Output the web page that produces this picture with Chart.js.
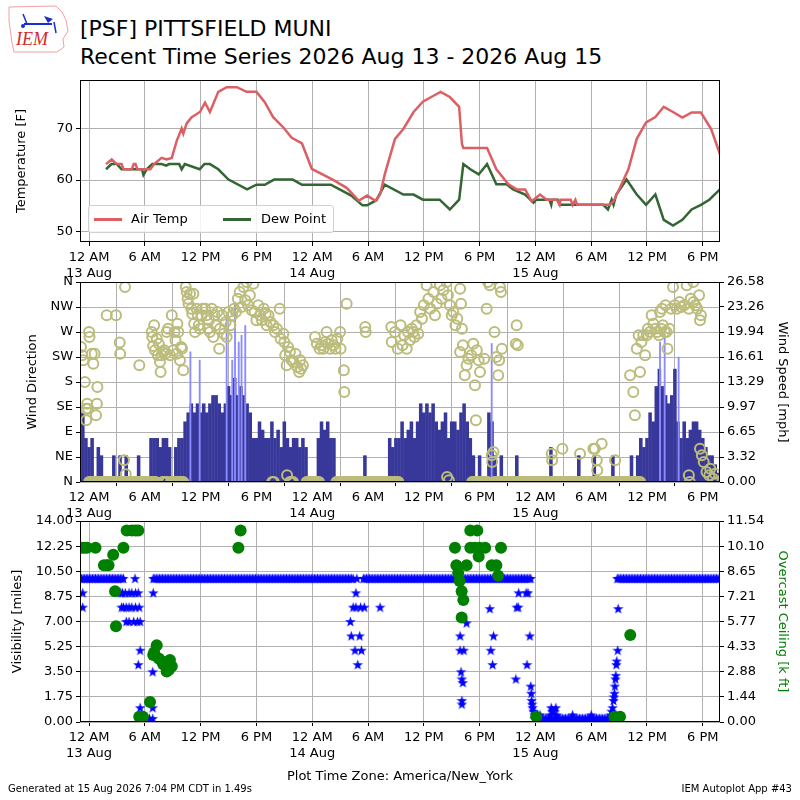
<!DOCTYPE html>
<html>
<head>
<meta charset="utf-8">
<script src="https://cdn.jsdelivr.net/npm/chart.js@4.4.1/dist/chart.umd.min.js"></script>
<style>
body { margin: 0; width: 800px; height: 800px; position: relative; overflow: hidden; background: #fff; font-family: 'DejaVu Sans', sans-serif; }
canvas { position: absolute; left: 0; }
.txt { position: absolute; white-space: nowrap; color: #000; }
#legend { position: absolute; left: 88px; top: 205px; width: 244px; height: 26px; border: 1px solid #d0d0d0; border-radius: 3px; background: rgba(255,255,255,0.85); font-size: 13px; }
#legend span { position: absolute; top: 5px; }
#legend i { position: absolute; top: 12px; height: 3px; width: 28px; }
</style>
</head>
<body>
<svg style="position:absolute;left:6px;top:3px" width="72" height="54" viewBox="0 0 72 54">
  <polygon points="3,4 50,3 56,9 60,17 62,28 57,36 58,44 51,49 8,49 6,40 3,18" fill="none" stroke="#f2a0a0" stroke-width="1"/>
  <line x1="18" y1="21" x2="46" y2="21" stroke="#1a2fd0" stroke-width="2"/>
  <line x1="17" y1="11" x2="21" y2="21" stroke="#1a2fd0" stroke-width="1.5"/>
  <polygon points="38,13 47,16 42,20" fill="#1a2fd0"/>
  <circle cx="17" cy="23" r="2" fill="#1a2fd0"/>
  <line x1="48" y1="19" x2="50" y2="30" stroke="#1a2fd0" stroke-width="1.5"/>
  <text x="10" y="42" font-family="Liberation Serif, serif" font-style="italic" font-size="18" fill="#d42a2a">IEM</text>
</svg>
<div class="txt" style="left:80px;top:15px;font-size:22px;line-height:28px">[PSF] PITTSFIELD MUNI<br>Recent Time Series 2026 Aug 13 - 2026 Aug 15</div>

<canvas id="tempChart" width="800" height="207" style="top:75px"></canvas>
<canvas id="windChart" width="800" height="252" style="top:275px"></canvas>
<canvas id="visChart" width="800" height="272" style="top:515px"></canvas>

<div id="legend">
  <i style="left:5px;background:#dc5f64"></i><span style="left:42px">Air Temp</span>
  <i style="left:134px;background:#336633"></i><span style="left:172px">Dew Point</span>
</div>

<div class="txt" style="left:8px;top:783px;font-size:10px">Generated at 15 Aug 2026 7:04 PM CDT in 1.49s</div>
<div class="txt" style="right:8px;top:783px;font-size:10px">IEM Autoplot App #43</div>

<script>
Chart.defaults.font.family = "'DejaVu Sans', sans-serif";
Chart.defaults.font.size = 13;
Chart.defaults.color = '#000';
Chart.defaults.animation = false;

// time is in hours after 12 AM 13 Aug (America/New_York)
const X_MIN = -0.97;
const X_MAX = 67.85;
const tickHours = [0, 6, 12, 18, 24, 30, 36, 42, 48, 54, 60, 66];
const tickLabels = [['12 AM', '13 Aug'], '6 AM', '12 PM', '6 PM', ['12 AM', '14 Aug'], '6 AM', '12 PM', '6 PM', ['12 AM', '15 Aug'], '6 AM', '12 PM', '6 PM'];

// temperature panel
const tempTicks = [50, 60, 70];
const airTemp = [
  [1.83,63.1],[2.44,64.0],[2.97,63.1],[3.5,63.1],[3.7,62.1],[4.6,62.1],[4.8,63.1],[5.0,63.1],[5.2,62.1],[6.0,62.1],
  [6.6,62.1],[7.0,63.1],[7.8,64.3],[8.35,64.0],[8.9,64.3],[9.43,67.6],[9.96,70.0],[10.14,69.0],[10.5,71.0],[11.04,72.2],
  [11.93,73.2],[12.47,75.0],[13.0,73.2],[13.9,77.1],[14.8,78.0],[15.9,78.0],[16.95,77.1],[18.0,77.1],[18.9,75.1],[19.8,72.2],
  [20.9,70.2],[21.8,68.2],[22.9,67.1],[23.95,62.2],[25.0,61.2],[26.3,60.0],[27.7,58.5],[29.0,56.0],[29.9,57.0],[30.8,56.0],
  [31.3,57.2],[31.8,61.1],[32.9,68.0],[33.8,69.9],[34.9,73.2],[35.9,75.2],[36.8,76.1],[37.8,77.1],[38.8,76.1],[39.8,74.2],
  [40.1,67.0],[40.25,66.2],[42.8,66.2],[43.8,62.1],[45.1,59.2],[46.0,58.2],[46.9,58.2],[47.6,55.9],[48.5,57.2],[49.2,56.2],
  [50.3,56.2],[50.6,55.2],[50.7,56.2],[51.8,56.2],[52.0,55.2],[52.3,56.2],[52.5,55.2],[55.3,55.2],[56.0,55.2],[56.4,55.9],
  [56.9,57.8],[58.0,62.1],[58.9,68.0],[59.9,71.2],[60.9,72.2],[61.8,74.2],[62.8,73.2],[63.8,72.1],[64.8,73.1],[65.8,73.1],
  [66.9,69.9],[67.85,65.0]
];
const dewPoint = [
  [1.83,62.1],[2.4,63.1],[3.0,63.1],[3.5,62.1],[5.7,62.1],[5.85,61.0],[6.2,62.1],[6.8,63.1],[7.8,63.1],[8.3,62.8],
  [8.6,63.1],[9.7,63.1],[9.96,62.1],[10.3,63.1],[11.9,62.1],[12.4,63.1],[13.0,63.1],[13.9,62.1],[15.0,60.1],[17.0,58.2],
  [18.0,59.1],[18.9,59.1],[19.9,60.1],[21.9,60.1],[22.9,59.1],[24.0,59.1],[26.0,59.1],[28.2,57.0],[29.4,55.1],[29.9,55.1],
  [30.9,56.1],[31.8,59.1],[33.8,57.2],[34.9,57.2],[35.9,56.2],[37.7,56.2],[38.8,54.3],[39.8,56.2],[40.25,63.1],[41.0,62.1],
  [41.9,61.1],[42.8,63.1],[43.8,59.2],[44.9,59.2],[45.6,58.2],[46.9,57.2],[47.8,55.6],[48.1,56.2],[49.5,56.2],[49.7,55.2],
  [49.8,56.2],[50.4,56.2],[50.6,55.2],[55.3,55.2],[55.8,54.3],[56.2,56.2],[56.4,55.2],[56.7,57.2],[57.8,60.1],[58.9,57.2],
  [59.9,55.2],[60.9,57.2],[61.8,52.3],[62.8,51.2],[63.8,52.3],[64.8,54.3],[65.8,55.2],[66.7,56.2],[67.85,58.2]
];

// wind panel
const dirTicks = [0, 45, 90, 135, 180, 225, 270, 315, 360];
const dirLabels = ['N', 'NE', 'E', 'SE', 'S', 'SW', 'W', 'NW', 'N'];
const speedMax = 26.58;
const speedLabels = ['0.00', '3.32', '6.65', '9.97', '13.29', '16.61', '19.94', '23.26', '26.58'];
const WS_START = -2 / 3;   // first sample 11:20 PM 12 Aug, one sample every 20 minutes
const WS_STEP = 1 / 3;
const windSpeed = [
  9.2,5.8,4.6, 5.8,0,4.6, 3.5,0,0, 0,3.5,0, 3.5,0,3.5, 0,0,0,
  3.5,0,0, 0,5.8,5.8, 5.8,4.6,5.8, 5.8,4.6,0, 4.6,5.8,5.8, 8.0,9.2,10.4,
  9.2,10.4,9.2, 10.4,9.2,10.4, 11.5,11.5,10.4, 9.2,10.4,12.7, 11.5,13.8,11.5, 12.7,11.5,10.4,
  9.2,5.8,5.8, 8.0,6.9,5.8, 5.8,8.0,5.8, 6.9,4.6,8.0, 5.8,4.6,5.8, 5.8,4.6,5.8,
  4.6,0,0, 0,5.8,8.0, 6.9,8.0,5.8, 5.8,0,0, 0,0,0, 0,0,0,
  0,3.5,0, 0,0,0, 0,0,0, 5.8,4.6,5.8, 5.8,8.0,5.8, 6.9,8.0,5.8,
  8.0,10.4,9.2, 10.4,9.2,10.4, 8.0,6.9,8.0, 9.2,5.8,8.0, 8.0,6.9,9.2, 10.4,8.0,5.8,
  3.5,0,3.5, 0,0,9.2, 8.0,3.5,0, 3.5,0,0, 0,0,3.5, 0,0,0,
  0,0,0, 0,0,0, 0,4.6,0, 0,0,0, 0,0,0, 0,3.5,0,
  0,0,0, 3.5,0,0, 0,0,0, 3.5,0,0, 0,0,0, 3.5,0,3.5,
  5.8,4.6,5.8, 9.2,8.0,12.7, 15.0,12.7,11.5, 10.4,11.5,15.0, 8.0,5.8,8.0, 5.8,6.9,8.0,
  8.0,6.9,5.8, 4.6,3.5,3.5, 2.3,1.2
];
const windGust = [
  [10.9,17.3],[11.9,16.2],[14.8,21.7],[15.4,16.2],[15.7,23.9],[16.1,18.6],[16.4,19.5],[16.8,20.8],
  [43.3,18.4],[61.4,18.6],[61.9,19.7],[63.4,16.6]
];
const windDir = [
  [-0.86,243],[-0.75,228],[-0.61,219],[-0.45,180],[-0.32,132],[-0.3,111],[-0.2,141],[-0.1,132],[0.0,270],[0.05,261],
  [0.3,231],[0.46,213],[0.6,231],[0.75,120],[0.85,141],[0.9,171],[1.9,300],[2.9,300],[3.3,251],[3.35,231],
  [3.87,351],[3.76,39],[3.95,14],[5.41,210],
  [6.74,270],[6.8,261],[6.9,245],[7.0,282],[7.1,237],[7.28,258],[7.4,228],[7.5,249],[7.63,216],[7.7,198],
  [7.8,228],[7.99,234],[8.1,237],[8.2,231],[8.35,270],[8.5,276],[8.71,228],[8.9,300],[9.07,237],[9.2,270],
  [9.3,255],[9.43,231],[9.5,285],[9.6,270],[9.78,219],[9.9,243],[10.0,240],[10.14,201],
  [10.4,351],[10.5,342],[10.6,330],[10.7,321],[10.86,339],[11.0,312],[11.1,303],[11.22,339],[11.3,285],[11.4,270],
  [11.57,312],[11.7,300],[11.8,282],[11.93,276],[12.1,300],[12.2,312],
  [12.5,312],[12.65,300],[12.8,276],[12.9,291],[13.0,270],[13.2,312],[13.36,261],[13.5,300],[13.6,282],[13.8,306],
  [14.0,240],[14.08,276],[14.3,300],[14.5,267],[14.7,288],[14.8,261],[15.0,306],[15.2,282],[15.4,300],
  [15.6,312],[15.8,306],[16.0,330],[16.2,342],[16.4,315],[16.6,351],[16.8,327],[16.95,360],[17.1,318],[17.3,336],
  [17.5,309],[17.67,357],[17.8,306],[18.0,291],[18.2,318],[18.4,300],
  [18.6,291],[18.8,312],[19.0,303],[19.1,282],[19.3,300],[19.5,288],[19.82,282],[20.0,270],[20.2,276],[20.5,312],
  [20.6,258],[20.9,267],[21.0,252],[21.1,228],[21.25,210],[21.3,12],[21.4,243],[21.6,234],[21.8,219],[21.97,216],
  [22.2,231],[22.4,207],[22.6,198],[22.7,219],[22.8,204],[23.0,210],
  [24.3,261],[24.5,249],[24.8,240],[25.0,246],[25.2,240],[25.4,252],[25.55,270],[25.7,249],[25.9,240],[26.1,255],
  [26.3,246],[26.5,240],[26.7,258],[27.0,270],[27.05,240],[27.4,201],[27.45,162],[27.7,321],[29.7,279],[29.75,270],
  [32.5,279],[32.55,252],[32.9,270],[33.2,240],
  [33.5,282],[33.7,246],[33.9,264],[34.16,240],[34.3,270],[34.5,255],[34.7,276],[34.87,270],[35.0,261],[35.2,282],
  [35.4,267],[35.6,306],[35.8,294],[36.0,318],[36.3,354],[36.5,330],[36.7,312],[37.03,342],[37.2,300],[37.4,321],
  [37.74,354],[37.9,330],[38.1,345],[38.46,360],[38.5,9],[38.6,336],[38.7,3],[38.8,318],[39.0,300],[39.18,306],
  [39.4,282],[39.6,294],[39.9,348],[40.0,321],[40.1,276],[39.9,234],[40.2,246],[40.4,192],[40.6,210],[40.8,222],
  [41.1,228],[41.32,249],[41.5,174],[41.6,111],[41.7,237],[41.9,219],[42.04,198],[42.5,222],[42.76,312],[42.9,360],
  [43.1,354],[43.3,48],[43.35,36],[43.5,54],[43.6,270],[43.8,225],[44.0,192],[44.1,219],[44.19,351],[44.3,342],
  [44.4,240],[45.98,282],[45.9,249],[46.1,246],
  [49.75,51],[49.8,39],[50.9,60],[52.8,51],[54.23,60],[54.4,60],[54.6,39],[54.65,21],[55.13,69],[56.57,39],
  [58.18,192],[58.53,162],[58.7,120],[58.9,240],[59.1,264],[59.25,198],[59.4,252],[59.6,264],[59.8,228],[59.97,264],
  [60.1,276],[60.3,270],[60.5,300],[60.68,285],[60.9,276],[61.1,270],[61.3,264],[61.5,276],[61.7,282],[61.9,270],
  [62.1,270],[62.2,240],[62.4,276],[61.4,306],[61.6,312],[62.0,318],[62.6,312],[62.8,351],[63.0,318],[63.2,312],
  [63.5,324],[63.7,315],[64.0,318],[64.27,354],[64.5,312],[64.7,330],[64.98,360],[65.0,324],[65.2,318],[65.4,312],
  [65.6,336],[65.7,291],[65.8,300],
  [64.5,12],[64.6,0],[65.7,60],[65.9,48],[66.1,36],[66.4,18],[66.7,12],[66.8,24],[67.1,6],[67.3,15],[67.5,0]
];
// calm reports (direction plotted as N) from..to, hours
const calmRuns = [[0.0,7.2],[7.9,8.5],[8.8,10.2],[19.7,20.0],[21.6,22.0],[23.4,24.8],[26.6,33.3],[41.2,43.0],[43.6,59.3]];

// visibility / ceiling panel
const visTickLabels = ['0.00', '1.75', '3.50', '5.25', '7.00', '8.75', '10.50', '12.25', '14.00'];
const ceilMax = 11.54;
const ceilTickLabels = ['0.00', '1.44', '2.88', '4.33', '5.77', '7.21', '8.65', '10.10', '11.54'];
// steady visibility reports: [from, to, miles]
const visRuns = [[-0.97,3.7,10],[6.9,28.5,10],[29.5,47.6,10],[56.8,67.85,10],[47.9,56.3,0.25]];
const visObs = [
  [-0.68,9],[-0.68,8],[3.4,9],[3.6,9],[3.9,9],[4.3,9],[4.6,9],[5.0,9],[5.3,9],
  [3.5,8],[3.7,8],[4.0,8],[4.3,8],[4.6,8],[5.0,8],[5.4,8],[4.0,7],[4.3,7],[4.8,7],[5.2,7],[5.5,7],
  [4.95,10],[5.5,5],[5.3,4],[5.5,1],[5.4,0.25],[5.8,0.25],[6.5,0.25],[6.85,0.25],[6.85,1],[6.85,3.5],[6.9,9],
  [28.1,7],[28.2,6],[29.1,6],[28.6,5],[29.3,5],[28.9,4],[28.4,8],[28.7,8],[29.2,8],[29.6,8],[28.7,9],[28.8,10],[31.3,8],
  [39.9,6],[39.9,5],[40.3,5],[40.0,3.5],[40.1,3.0],[40.2,2.75],[40.1,1.5],[40.1,1.25],[40.6,6.9],
  [43.1,7.9],[43.5,6],[43.2,5],[43.4,4],
  [46.0,8],[46.15,8],[45.9,3],[46.2,9],[47.0,9],[47.2,9],[47.1,4],[47.4,6],[47.5,2.5],[47.55,2.0],[47.6,1.5],
  [47.65,1.25],[47.7,1.0],[47.8,0.75],[47.9,0.5],[48.2,0.5],[48.5,0.5],
  [49.6,0.5],[49.7,1.0],[49.8,0.75],[50.0,0.75],[50.2,1.0],[50.3,0.5],[52.0,0.5],[54.0,0.5],
  [56.1,0.5],[56.2,0.75],[56.3,1.0],[56.4,1.5],[56.45,1.75],[56.5,2.0],[56.55,2.5],[56.6,3.0],[56.65,3.25],
  [56.7,4.0],[56.75,4.25],[56.85,5.0],[56.9,7.9]
];
const ceilingObs = [
  [-0.8,10],[-0.5,10],[-0.2,10],[0.7,10],[1.6,9],[1.9,9],[2.1,9],[2.6,9.6],[2.8,7.5],[2.9,5.5],[3.7,10],
  [4.05,11],[4.6,11],[5.0,11],[5.3,11],[5.4,0.3],[5.8,0.3],[6.56,1.15],[6.9,3.85],[7.0,4.0],[7.28,4.4],
  [7.5,3.65],[7.8,3.5],[8.0,3.3],[8.35,2.9],[8.5,3.2],[8.7,3.56],[8.9,3.2],[8.6,3.0],[16.06,10],[16.3,11],
  [39.35,10],[39.5,9],[39.7,8.56],[39.85,8.1],[40.07,7.5],[40.25,7.0],[40.07,6.0],[40.6,9],[41.0,11],[41.75,11],
  [41.0,10],[41.5,10],[42.0,10],[42.6,10],[41.9,9.5],[43.3,9],[43.8,9],[44.0,8.4],[44.3,10],
  [48.1,0.3],[56.5,0.3],[57.1,0.3],[58.2,5.0]
];

const OBS_STEP = 1 / 6; // reports every 10 minutes inside a steady run

const pairs = arr => arr.map(([x, y]) => ({ x, y }));

function runPoints(runs, fixed) {
  const pts = [];
  runs.forEach(r => {
    const val = fixed !== undefined ? fixed : r[2];
    for (let h = r[0]; h <= r[1] + 1e-9; h += OBS_STEP) pts.push({ x: h, y: val });
  });
  return pts;
}

function starImage(size, color) {
  const c = document.createElement('canvas');
  c.width = size; c.height = size;
  const g = c.getContext('2d');
  g.fillStyle = color;
  g.beginPath();
  for (let i = 0; i < 10; i++) {
    const r = i % 2 ? size * 0.2 : size / 2;
    const a = -Math.PI / 2 + i * Math.PI / 5;
    g.lineTo(size / 2 + r * Math.cos(a), size * 0.55 + r * Math.sin(a));
  }
  g.closePath();
  g.fill();
  return c;
}

const framePlugin = {
  id: 'frame',
  afterDraw(chart) {
    const { ctx, chartArea: a } = chart;
    ctx.save();
    ctx.strokeStyle = '#000';
    ctx.lineWidth = 1;
    ctx.strokeRect(Math.round(a.left) + 0.5, Math.round(a.top) + 0.5, Math.round(a.right - a.left) - 1, Math.round(a.bottom - a.top) - 1);
    ctx.restore();
  }
};

const gridStyle = { color: '#b0b0b0', tickColor: '#000', tickLength: 4, lineWidth: 1 };

function timeAxis(height, z) {
  return {
    type: 'linear', min: X_MIN, max: X_MAX, offset: false, z: z || 0,
    afterBuildTicks: s => { s.ticks = tickHours.map(v => ({ value: v })); },
    afterFit: s => { s.height = height; s.paddingLeft = 0; s.paddingRight = 0; },
    ticks: { autoSkip: false, maxRotation: 0, minRotation: 0, padding: 4, callback: (v, i) => tickLabels[i] },
    grid: gridStyle,
    border: { display: false }
  };
}

function valueAxis(pos, min, max, ticks, labels, title, titlePad, titleColor, onChart, z) {
  return {
    type: 'linear', position: pos, min, max, z: z || 0,
    afterBuildTicks: s => { s.ticks = ticks.map(v => ({ value: v })); },
    afterFit: s => { s.width = 80; s.paddingTop = 0; s.paddingBottom = 0; },
    ticks: { padding: 3, callback: (v, i) => labels[i] },
    grid: Object.assign({}, gridStyle, { drawOnChartArea: onChart }),
    border: { display: false },
    title: { display: true, text: title, color: titleColor || '#000', padding: { top: titlePad, bottom: 0 }, font: { size: 13 } }
  };
}

new Chart(document.getElementById('tempChart'), {
  type: 'line',
  data: {
    datasets: [
      { label: 'Air Temp', data: pairs(airTemp), borderColor: '#dc5f64', borderWidth: 2.5, pointRadius: 0, tension: 0 },
      { label: 'Dew Point', data: pairs(dewPoint), borderColor: '#336633', borderWidth: 2.5, pointRadius: 0, tension: 0 }
    ]
  },
  options: {
    responsive: false,
    layout: { padding: { top: 5, right: 80, left: 0, bottom: 0 } },
    plugins: { legend: { display: false }, tooltip: { enabled: false } },
    scales: {
      x: timeAxis(40),
      y: valueAxis('left', 48, 79.4, tempTicks, tempTicks.map(String), 'Temperature [F]', 14, null, true)
    }
  },
  plugins: [framePlugin]
});

const speedTicks = speedLabels.map((s, i) => i * speedMax / 8);

new Chart(document.getElementById('windChart'), {
  type: 'bar',
  data: {
    datasets: [
      {
        type: 'scatter', label: 'Wind Direction', yAxisID: 'yDir', order: 0,
        data: pairs(windDir).concat(runPoints(calmRuns, 0)),
        showLine: false, pointStyle: 'circle', pointRadius: 5, borderWidth: 2,
        borderColor: '#bcbc7c', backgroundColor: 'rgba(0,0,0,0)'
      },
      {
        label: 'Gust', yAxisID: 'ySpd', order: 1, grouped: false,
        data: pairs(windGust), backgroundColor: '#8c8cff', barThickness: 1.2
      },
      {
        label: 'Wind Speed', yAxisID: 'ySpd', order: 2, grouped: false,
        data: windSpeed.map((v, i) => ({ x: WS_START + i * WS_STEP, y: v })),
        backgroundColor: '#38389a', barThickness: 2.9
      }
    ]
  },
  options: {
    responsive: false,
    layout: { padding: { top: 5, right: 0, left: 0, bottom: 0 } },
    plugins: { legend: { display: false }, tooltip: { enabled: false } },
    scales: {
      x: timeAxis(45, 1),
      yDir: valueAxis('left', 0, 360, dirTicks, dirLabels, 'Wind Direction', 25, null, true, 1),
      ySpd: valueAxis('right', 0, speedMax, speedTicks, speedLabels, 'Wind Speed [mph]', 10, null, false)
    }
  },
  plugins: [framePlugin]
});

const visTicks = visTickLabels.map(Number);
const ceilTicks = ceilTickLabels.map((s, i) => i * ceilMax / 8);

new Chart(document.getElementById('visChart'), {
  type: 'scatter',
  data: {
    datasets: [
      {
        label: 'Overcast Ceiling', yAxisID: 'yCeil', order: 0,
        data: pairs(ceilingObs), pointStyle: 'circle', pointRadius: 6, borderWidth: 0,
        backgroundColor: '#008000'
      },
      {
        label: 'Visibility', yAxisID: 'yVis', order: 1,
        data: runPoints(visRuns).concat(pairs(visObs)), pointStyle: starImage(11, '#0000ff')
      }
    ]
  },
  options: {
    responsive: false,
    layout: { padding: { top: 5, right: 0, left: 0, bottom: 0 } },
    plugins: { legend: { display: false }, tooltip: { enabled: false } },
    scales: {
      x: Object.assign(timeAxis(65), {
        title: { display: true, text: 'Plot Time Zone: America/New_York', padding: { top: 0, bottom: 3 }, font: { size: 13 } }
      }),
      yVis: valueAxis('left', 0, 14, visTicks, visTickLabels, 'Visibility [miles]', 10, null, true),
      yCeil: valueAxis('right', 0, ceilMax, ceilTicks, ceilTickLabels, 'Overcast Ceiling [k ft]', 10, '#008000', false)
    }
  },
  plugins: [framePlugin]
});
</script>
</body>
</html>
